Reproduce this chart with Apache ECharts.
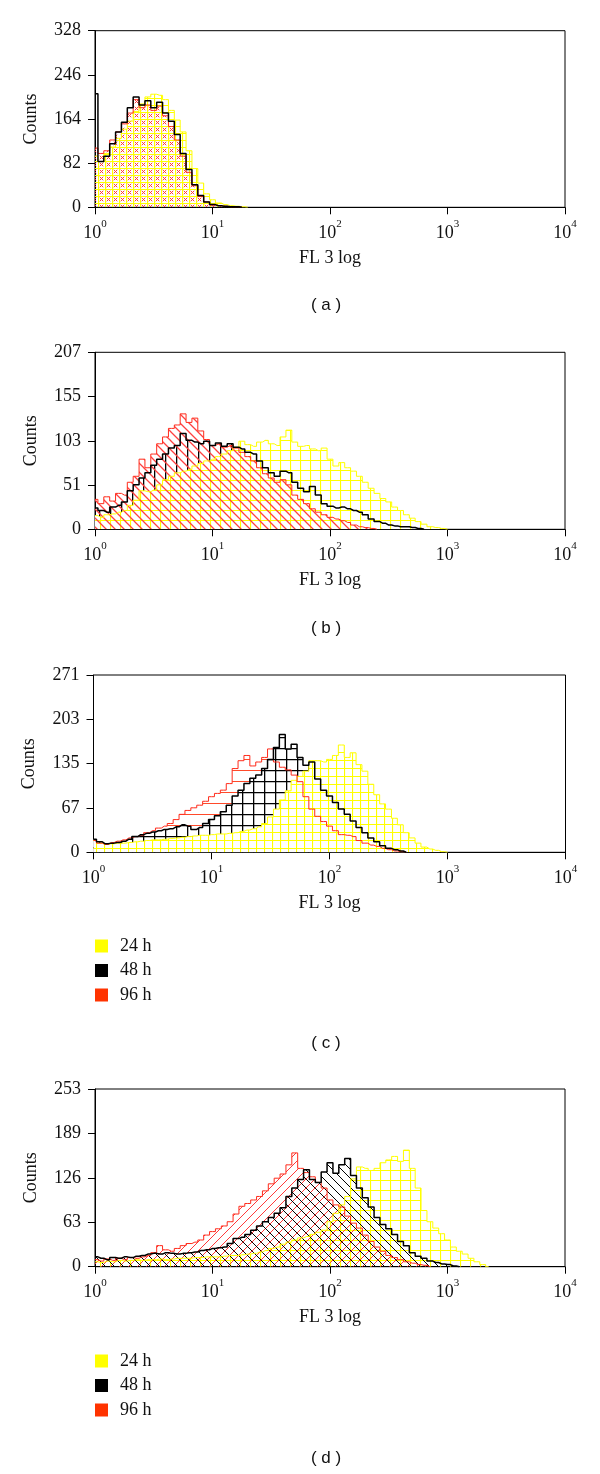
<!DOCTYPE html>
<html>
<head>
<meta charset="utf-8">
<script src="https://cdn.jsdelivr.net/npm/echarts@6/dist/echarts.min.js"></script>
<style>
html,body{margin:0;padding:0;background:#fff;}
#chart{width:600px;height:1474px;}
</style>
</head>
<body>
<div id="chart"></div>
<script>
// Bin centres on the FL 3 log axis (0.05 decade steps, read positions)
const BINS = [1, 1.122, 1.259, 1.413, 1.585, 1.778, 1.995, 2.239, 2.512, 2.818,
  3.162, 3.548, 3.981, 4.467, 5.012, 5.623, 6.310, 7.079, 7.943, 8.913,
  10, 11.22, 12.59, 14.13, 15.85, 17.78, 19.95, 22.39, 25.12, 28.18,
  31.62, 35.48, 39.81, 44.67, 50.12, 56.23, 63.10, 70.79, 79.43, 89.13,
  100, 112.2, 125.9, 141.3, 158.5, 177.8, 199.5, 223.9, 251.2, 281.8,
  316.2, 354.8, 398.1, 446.7, 501.2, 562.3, 631.0, 707.9, 794.3, 891.3,
  1000, 1122, 1259, 1413, 1585, 1778, 1995, 2239, 2512];

// Panel (a)
const A_24 = [95, 85, 100, 112, 128, 145, 160, 178, 192, 205, 210, 208, 200, 180, 162, 140, 105, 72, 45, 25, 14, 8, 5, 3, 2, 1, 0];
const A_48 = [211, 85, 95, 118, 140, 158, 185, 205, 190, 198, 185, 195, 175, 160, 135, 100, 70, 42, 22, 10, 5, 3, 2, 1, 1, 0];
const A_96 = [110, 100, 105, 125, 140, 155, 175, 200, 185, 190, 180, 188, 170, 150, 125, 95, 65, 40, 20, 10, 4, 3, 2, 1, 1, 0];

// Panel (b)
const B_24 = [16, 14, 17, 18, 20, 22, 28, 34, 45, 44, 46, 52, 58, 62, 66, 68, 70, 74, 77, 80,
  82, 85, 88, 92, 96, 103, 99, 97, 102, 104, 100, 98, 108, 116, 102, 97, 98, 94, 92, 95,
  82, 74, 78, 72, 68, 62, 55, 48, 42, 36, 32, 26, 22, 17, 13, 9, 6, 3, 2, 1, 0];
const B_48 = [25, 22, 20, 26, 28, 32, 45, 52, 60, 66, 75, 82, 88, 95, 98, 112, 104, 102, 100, 103,
  98, 101, 97, 100, 96, 94, 90, 88, 80, 72, 66, 62, 68, 66, 55, 48, 44, 50, 40, 30,
  27, 25, 26, 24, 22, 20, 17, 12, 9, 7, 5, 4, 3, 3, 2, 1, 0];
const B_96 = [35, 30, 38, 33, 42, 40, 55, 62, 82, 72, 88, 100, 108, 118, 122, 135, 125, 130, 115, 105,
  98, 100, 96, 98, 95, 90, 85, 80, 72, 65, 60, 55, 58, 52, 40, 35, 30, 24, 20, 17,
  14, 12, 10, 8, 5, 3, 2, 1, 0];

// Panel (c)
const C_24 = [18, 14, 12, 13, 14, 14, 15, 16, 17, 18, 19, 19, 20, 21, 22, 23, 24, 25, 26, 26,
  27, 28, 28, 29, 30, 32, 34, 36, 39, 44, 54, 66, 80, 94, 110, 116, 124, 140, 140, 138,
  142, 148, 164, 145, 152, 134, 124, 104, 88, 74, 66, 52, 42, 30, 22, 14, 8, 5, 3, 1, 0];
const C_48 = [20, 16, 13, 14, 15, 17, 20, 24, 27, 29, 31, 33, 35, 36, 39, 42, 40, 35, 38, 44,
  50, 56, 62, 72, 86, 95, 105, 113, 118, 128, 142, 160, 180, 158, 165, 145, 133, 138, 112, 95,
  86, 76, 66, 58, 48, 38, 30, 22, 16, 10, 6, 4, 2, 0];
const C_96 = [18, 14, 12, 15, 17, 19, 22, 24, 26, 30, 33, 37, 40, 44, 50, 58, 64, 68, 72, 78,
  85, 90, 95, 105, 128, 140, 148, 132, 138, 145, 158, 138, 130, 126, 118, 108, 85, 66, 55, 47,
  40, 33, 27, 26, 24, 18, 14, 11, 9, 6, 4, 2, 1, 0];

// Panel (d)
const D_24 = [7, 6, 8, 7, 9, 8, 9, 10, 9, 10, 10, 11, 10, 11, 12, 12, 12, 13, 13, 14,
  14, 14, 15, 16, 16, 17, 18, 19, 21, 23, 26, 28, 32, 35, 38, 41, 43, 46, 49, 52,
  64, 76, 88, 100, 125, 142, 140, 137, 140, 148, 152, 157, 150, 166, 140, 112, 80, 64, 55, 47,
  38, 28, 22, 18, 12, 7, 3, 0];
const D_48 = [14, 12, 10, 13, 12, 14, 13, 15, 16, 18, 19, 18, 20, 19, 18, 19, 20, 21, 23, 24,
  26, 27, 28, 33, 40, 42, 46, 52, 58, 64, 70, 76, 84, 100, 112, 124, 138, 124, 120, 135,
  148, 133, 145, 154, 130, 112, 98, 85, 70, 60, 54, 46, 36, 30, 20, 15, 12, 8, 6, 4,
  3, 1, 0];
const D_96 = [10, 8, 11, 9, 12, 10, 13, 12, 14, 16, 20, 30, 24, 22, 26, 30, 33, 35, 38, 45,
  50, 54, 58, 64, 75, 86, 90, 95, 100, 108, 118, 126, 132, 145, 162, 140, 134, 128, 120, 112,
  95, 88, 85, 72, 62, 55, 45, 36, 28, 22, 16, 13, 10, 7, 5, 3, 2, 0];

const Y_MAX = [328, 207, 271, 253];
const PANEL_LABELS = ['( a )', '( b )', '( c )', '( d )'];
const LEGEND_NAMES = ['24 h', '48 h', '96 h'];

// ---------- layout / style ----------
const SERIF = "'Liberation Serif', 'DejaVu Serif', serif";
const SANS = "'Liberation Sans', Arial, sans-serif";
const COL = { y: '#ffff00', k: '#000000', r: '#ff2a1a' };
const LEG_COL = ['#ffff00', '#000000', '#ff3300'];

const GRIDS = [
  { left: 95, top: 30.7, width: 470, height: 176.6 },
  { left: 95, top: 352.3, width: 470, height: 177 },
  { left: 93.5, top: 675, width: 472, height: 177.3 },
  { left: 95, top: 1089, width: 470, height: 177.7 }
];
const LABEL_Y = [305, 628, 1043, 1458];

function pattern(size, bg, color, lw, kinds) {
  const c = document.createElement('canvas');
  c.width = size; c.height = size;
  const g = c.getContext('2d');
  if (bg) { g.fillStyle = bg; g.fillRect(0, 0, size, size); }
  g.strokeStyle = color; g.lineWidth = lw;
  g.beginPath();
  kinds.forEach(k => {
    if (k === 'h') { g.moveTo(0, 0.5); g.lineTo(size, 0.5); }
    if (k === 'v') { g.moveTo(0.5, 0); g.lineTo(0.5, size); }
    if (k === 'b') { // "\"
      g.moveTo(-1, -1); g.lineTo(size + 1, size + 1);
      g.moveTo(-1, size - 1); g.lineTo(1, size + 1);
      g.moveTo(size - 1, -1); g.lineTo(size + 1, 1);
    }
    if (k === 'f') { // "/"
      g.moveTo(-1, size + 1); g.lineTo(size + 1, -1);
      g.moveTo(-1, 1); g.lineTo(1, -1);
      g.moveTo(size - 1, size + 1); g.lineTo(size + 1, size - 1);
    }
    if (k === 'x') { // small x cross centred in cell
      const a = size * 0.25, b = size * 0.75;
      g.moveTo(a, a); g.lineTo(b, b);
      g.moveTo(b, a); g.lineTo(a, b);
    }
  });
  g.stroke();
  return { image: c, repeat: 'repeat' };
}

const PANELS = [
  { data: [A_24, A_48, A_96],
    areas: [ // [seriesIdx, pattern] in drawing order
      [0, pattern(7, null, COL.y, 1.2, ['h', 'v'])],
      [2, pattern(7, null, '#ff3a3a', 1, ['x'])]
    ] },
  { data: [B_24, B_48, B_96],
    areas: [
      [1, pattern(11, null, '#000', 1.6, ['v'])],
      [0, pattern(10, '#ffffff', COL.y, 1.2, ['h', 'v'])],
      [2, pattern(9, null, '#ff4040', 1.3, ['b'])]
    ] },
  { data: [C_24, C_48, C_96],
    areas: [
      [2, pattern(11, '#ffffff', '#ff4a2a', 1, ['h'])],
      [1, pattern(11, '#ffffff', '#000', 1.6, ['h', 'v'])],
      [0, pattern(8, '#ffffff', COL.y, 1.2, ['h', 'v'])]
    ] },
  { data: [D_24, D_48, D_96],
    areas: [
      [0, pattern(10, null, COL.y, 1.2, ['h', 'v'])],
      [2, pattern(9, null, '#ff3a3a', 1, ['f'])],
      [1, pattern(9, null, '#000', 1, ['b'])]
    ] }
];

const lineColors = [COL.y, COL.k, COL.r];
const lineWidths = [1, 1.5, 1];

const grids = [], xAxes = [], yAxes = [], series = [], graphics = [];
GRIDS.forEach((gr, p) => {
  grids.push(Object.assign({ show: true, borderColor: '#000', borderWidth: 1, backgroundColor: 'transparent' }, gr));
  xAxes.push({
    gridIndex: p, type: 'log', logBase: 10, min: 1, max: 10000, splitNumber: 4,
    name: 'FL 3 log', nameLocation: 'middle', nameGap: 42,
    nameTextStyle: { fontFamily: SERIF, fontSize: 18, color: '#111' },
    axisLine: { lineStyle: { color: '#000', width: 1 } },
    axisTick: { show: true, length: 7, lineStyle: { color: '#000' } },
    minorTick: { show: false }, splitLine: { show: false },
    axisLabel: {
      margin: 11, color: '#111',
      formatter: v => '{b|10}{s|' + Math.round(Math.log10(v)) + '}',
      rich: {
        b: { fontFamily: SERIF, fontSize: 18, lineHeight: 24, verticalAlign: 'bottom', color: '#111' },
        s: { fontFamily: SERIF, fontSize: 11, lineHeight: 12, verticalAlign: 'top', color: '#111' }
      }
    }
  });
  const mx = Y_MAX[p];
  yAxes.push({
    gridIndex: p, type: 'value', min: 0, max: mx, interval: mx / 4,
    name: 'Counts', nameLocation: 'middle', nameGap: 55, nameRotate: 90,
    nameTextStyle: { fontFamily: SERIF, fontSize: 18, color: '#111' },
    axisLine: { show: true, lineStyle: { color: '#000', width: 1 } },
    axisTick: { show: true, length: 7, lineStyle: { color: '#000' } },
    splitLine: { show: false },
    axisLabel: { margin: 14, fontFamily: SERIF, fontSize: 18, color: '#111',
      formatter: v => String(Math.floor(v + 1e-6)) }
  });
  const P = PANELS[p];
  P.areas.forEach(([si, pat]) => {
    series.push({
      type: 'line', xAxisIndex: p, yAxisIndex: p, step: 'middle', silent: true,
      showSymbol: false, symbol: 'none', z: 2,
      lineStyle: { width: 0, opacity: 0 },
      areaStyle: { color: pat, opacity: 1 },
      data: P.data[si].map((v, i) => [BINS[i], v])
    });
  });
  [0, 2, 1].forEach(si => {
    series.push({
      name: LEGEND_NAMES[si], type: 'line', xAxisIndex: p, yAxisIndex: p, step: 'middle', silent: true,
      showSymbol: false, symbol: 'none', z: 3, color: lineColors[si],
      lineStyle: { width: lineWidths[si], color: lineColors[si] },
      data: P.data[si].map((v, i) => [BINS[i], v])
    });
  });
  graphics.push({
    type: 'text', x: 326, y: LABEL_Y[p],
    style: { text: PANEL_LABELS[p], font: '17px ' + SANS, fill: '#111', textAlign: 'center', textVerticalAlign: 'middle' }
  });
});

function legendAt(top) {
  return {
    orient: 'vertical', left: 95, top: top, padding: 0, itemGap: 6.5,
    itemWidth: 13, itemHeight: 13, icon: 'rect', selectedMode: false,
    itemStyle: { borderWidth: 0 },
    textStyle: { fontFamily: SERIF, fontSize: 18, color: '#111', lineHeight: 13, padding: [0, 0, 0, 7] },
    data: LEGEND_NAMES.map((n, i) => ({ name: n, itemStyle: { color: LEG_COL[i], borderWidth: 0 } }))
  };
}

const chart = echarts.init(document.getElementById('chart'), null, { renderer: 'canvas' });
chart.setOption({
  animation: false,
  backgroundColor: '#ffffff',
  grid: grids, xAxis: xAxes, yAxis: yAxes, series: series,
  legend: [legendAt(937), legendAt(1352)],
  graphic: graphics
});
</script>
</body>
</html>
